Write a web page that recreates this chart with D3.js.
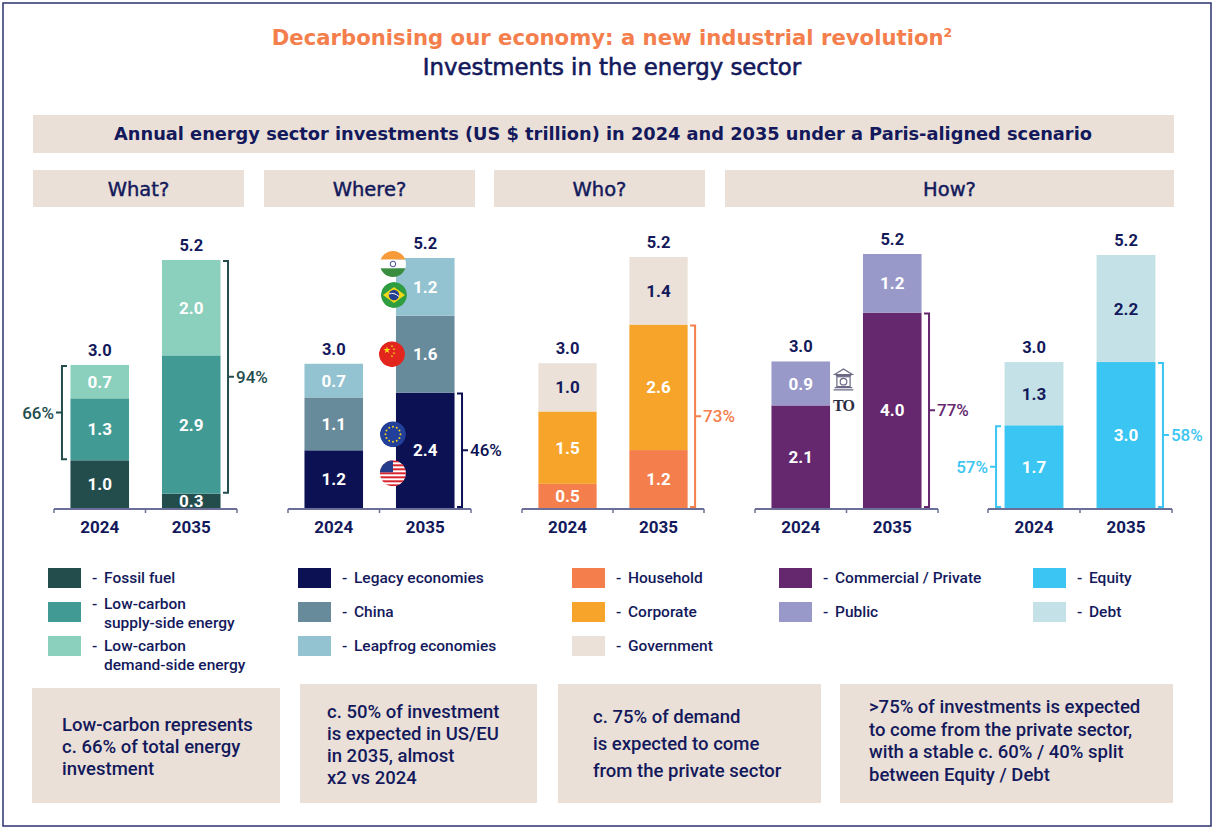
<!DOCTYPE html>
<html><head><meta charset="utf-8">
<script src="https://cdn.jsdelivr.net/npm/d3@7"></script>
<style>
html,body{margin:0;padding:0;background:#fff;}
svg{display:block;}
</style></head><body>
<svg id="c" width="1215" height="830" font-family="Roboto,'Liberation Sans',Arial,sans-serif"></svg>
<script>
// ---------------- DATA ----------------
const years = ["2024", "2035"];

const titleMain = "Decarbonising our economy: a new industrial revolution";
const titleSup = "2";
const subtitle = "Investments in the energy sector";
const banner = "Annual energy sector investments (US $ trillion) in 2024 and 2035 under a Paris-aligned scenario";
const sections = ["What?", "Where?", "Who?", "How?"];

const whatSeries = [["Fossil fuel"], ["Low-carbon", "supply-side energy"], ["Low-carbon", "demand-side energy"]];
const whatValues = [[1.0, 0.3], [1.3, 2.9], [0.7, 2.0]];
const whatShares = [{year: "2024", from: 1, to: 2, label: "66%", side: "left"},
                    {year: "2035", from: 1, to: 2, label: "94%", side: "right"}];

const whereSeries = [["Legacy economies"], ["China"], ["Leapfrog economies"]];
const whereValues = [[1.2, 2.4], [1.1, 1.6], [0.7, 1.2]];
const whereShares = [{year: "2035", from: 0, to: 0, label: "46%", side: "right"}];

const whoSeries = [["Household"], ["Corporate"], ["Government"]];
const whoValues = [[0.5, 1.2], [1.5, 2.6], [1.0, 1.4]];
const whoShares = [{year: "2035", from: 0, to: 1, label: "73%", side: "right"}];

const howSectorSeries = [["Commercial / Private"], ["Public"]];
const howSectorValues = [[2.1, 4.0], [0.9, 1.2]];
const howSectorShares = [{year: "2035", from: 0, to: 0, label: "77%", side: "right"}];

const howFundingSeries = [["Equity"], ["Debt"]];
const howFundingValues = [[1.7, 3.0], [1.3, 2.2]];
const howFundingShares = [{year: "2024", from: 0, to: 0, label: "57%", side: "left"},
                          {year: "2035", from: 0, to: 0, label: "58%", side: "right"}];

const notes = [
  ["Low-carbon represents", "c. 66% of total energy", "investment"],
  ["c. 50% of investment", "is expected in US/EU", "in 2035, almost", "x2 vs 2024"],
  ["c. 75% of demand", "is expected to come", "from the private sector"],
  [">75% of investments is expected", "to come from the private sector,", "with a stable c. 60% / 40% split", "between Equity / Debt"]
];

// ---------------- STYLE ----------------
const navy = "#13195b";
const beige = "#eae0d8";
const white = "#ffffff";
const wideFont = "'DejaVu Sans',Verdana,sans-serif";
const baseFont = "Roboto,'Liberation Sans',Arial,sans-serif";

const panels = [
  {series: whatSeries, values: whatValues, shares: whatShares,
   colors: ["#234c4c", "#429a94", "#8bd0bd"], labelColors: [white, white, white],
   bracketColor: "#234c4c", x0: 54, x1: 237, top: 260, legendX: 48},
  {series: whereSeries, values: whereValues, shares: whereShares,
   colors: ["#0b1153", "#688b9c", "#93c3d0"], labelColors: [white, white, white],
   bracketColor: "#0b1153", x0: 288, x1: 471, top: 258, legendX: 298},
  {series: whoSeries, values: whoValues, shares: whoShares,
   colors: ["#f47e4c", "#f7a42b", "#ebe1d9"], labelColors: [white, white, navy],
   bracketColor: "#f47e4c", x0: 522, x1: 704, top: 257, legendX: 572},
  {series: howSectorSeries, values: howSectorValues, shares: howSectorShares,
   colors: ["#65276e", "#9899c9"], labelColors: [white, white],
   bracketColor: "#65276e", x0: 755, x1: 938, top: 254, legendX: 779},
  {series: howFundingSeries, values: howFundingValues, shares: howFundingShares,
   colors: ["#3ac5f2", "#c3e1e6"], labelColors: [white, navy],
   bracketColor: "#3ac5f2", x0: 988, x1: 1172, top: 255, legendX: 1033}
];

const baseY = 508;
const svg = d3.select("#c");

// frame
svg.append("rect").attr("x", 3).attr("y", 3).attr("width", 1208).attr("height", 823)
  .attr("fill", "none").attr("stroke", "#2b3270").attr("stroke-width", 1.5);

// titles
const t1 = svg.append("text").attr("x", 612).attr("y", 45).attr("text-anchor", "middle")
  .attr("font-family", wideFont).attr("font-size", 21.2).attr("font-weight", 700).attr("fill", "#f47e4c");
t1.append("tspan").text(titleMain);
t1.append("tspan").attr("font-size", 12.5).attr("dy", -8).text(titleSup);
svg.append("text").attr("x", 612).attr("y", 75).attr("text-anchor", "middle")
  .attr("font-family", wideFont).attr("font-size", 22.8).attr("font-weight", 400)
  .attr("fill", navy).attr("stroke", navy).attr("stroke-width", 0.6).text(subtitle);

// banner
svg.append("rect").attr("x", 33).attr("y", 115).attr("width", 1141).attr("height", 38).attr("fill", beige);
svg.append("text").attr("x", 603).attr("y", 140).attr("text-anchor", "middle")
  .attr("font-family", wideFont).attr("font-size", 17.8).attr("font-weight", 700).attr("fill", navy).text(banner);

// section headers
const sectionBoxes = [[33, 211], [264, 211], [494, 211], [725, 449]];
sections.forEach((s, i) => {
  const [bx, bw] = sectionBoxes[i];
  svg.append("rect").attr("x", bx).attr("y", 170).attr("width", bw).attr("height", 37).attr("fill", beige);
  svg.append("text").attr("x", bx + bw / 2).attr("y", 196).attr("text-anchor", "middle")
    .attr("font-family", wideFont).attr("font-size", 19.5).attr("font-weight", 400)
    .attr("fill", navy).attr("stroke", navy).attr("stroke-width", 0.45).text(s);
});

// ---------------- CHARTS ----------------
const fmt = d3.format(".1f");

panels.forEach((p, pi) => {
  const g = svg.append("g");
  const x = d3.scaleBand().domain(years).range([p.x0, p.x1]).paddingInner(0.36).paddingOuter(0.18);
  const rows = years.map((yr, j) => {
    const r = {year: yr};
    p.values.forEach((v, k) => r["s" + k] = v[j]);
    return r;
  });
  const keys = p.values.map((v, k) => "s" + k);
  const stack = d3.stack().keys(keys)(rows);
  const totals = rows.map(r => d3.sum(keys, k => r[k]));
  const y = d3.scaleLinear().domain([0, d3.max(totals)]).range([baseY, p.top]);
  p.x = x; p.y = y; p.stack = stack;

  stack.forEach((layer, k) => {
    g.selectAll(null).data(layer).enter().append("rect")
      .attr("x", d => x(d.data.year)).attr("width", x.bandwidth())
      .attr("y", d => y(d[1])).attr("height", d => y(d[0]) - y(d[1]))
      .attr("fill", p.colors[k]);
    g.selectAll(null).data(layer).enter().append("text")
      .attr("x", d => x(d.data.year) + x.bandwidth() / 2)
      .attr("y", d => (y(d[0]) + y(d[1])) / 2).attr("dy", "0.36em")
      .attr("text-anchor", "middle").attr("font-size", 17).attr("font-weight", 700)
      .attr("fill", p.labelColors[k]).text(d => fmt(d[1] - d[0]));
  });

  // totals
  g.selectAll(null).data(rows).enter().append("text")
    .attr("x", d => x(d.year) + x.bandwidth() / 2)
    .attr("y", (d, j) => y(totals[j]) - 9)
    .attr("text-anchor", "middle").attr("font-size", 16.5).attr("font-weight", 700)
    .attr("fill", navy).text((d, j) => fmt(totals[j]));

  // axis
  const axis = g.append("g").attr("transform", `translate(0,${baseY})`)
    .call(d3.axisBottom(x).tickSize(0).tickPadding(13));
  axis.attr("font-family", baseFont);
  axis.select(".domain").remove();
  axis.selectAll("text").attr("font-size", 17).attr("font-weight", 700).attr("fill", navy);
  const axColor = "#6b6f98";
  const [r0, r1] = x.range();
  const mid = x(years[1]) - x.step() * x.paddingInner() / 2;
  g.append("line").attr("x1", r0).attr("x2", r1).attr("y1", baseY + 1).attr("y2", baseY + 1)
    .attr("stroke", axColor).attr("stroke-width", 2);
  [r0, mid, r1].forEach(tx => g.append("line").attr("x1", tx).attr("x2", tx)
    .attr("y1", baseY + 1).attr("y2", baseY + 5).attr("stroke", axColor).attr("stroke-width", 1.5));

  // brackets
  p.shares.forEach(s => {
    const j = years.indexOf(s.year);
    const yTop = y(stack[s.to][j][1]) + 1;
    const yBot = y(stack[s.from][j][0]) - 1;
    const ym = (yTop + yBot) / 2;
    const right = s.side === "right";
    const bx = right ? x(s.year) + x.bandwidth() + 7.5 : x(s.year) - 8.5;
    const dir = right ? 1 : -1;
    const serif = 5;
    g.append("path")
      .attr("d", `M${bx - dir * serif},${yTop}H${bx}V${yBot}H${bx - dir * serif}M${bx},${ym}H${bx + dir * 6}`)
      .attr("fill", "none").attr("stroke", p.bracketColor).attr("stroke-width", 2);
    g.append("text").attr("x", bx + dir * 8).attr("y", ym).attr("dy", "0.36em")
      .attr("text-anchor", right ? "start" : "end")
      .attr("font-size", 17).attr("font-weight", 500).attr("fill", p.bracketColor).text(s.label);
  });

  // legend
  const rowsTop = [568, 602, 636];
  p.series.forEach((lines, k) => {
    const ty = rowsTop[k];
    svg.append("rect").attr("x", p.legendX).attr("y", ty).attr("width", 33).attr("height", 20).attr("fill", p.colors[k]);
    const first = (lines.length > 1 && k < p.series.length - 1) ? ty + 7 : ty + 15;
    svg.append("text").attr("x", p.legendX + 44).attr("y", first)
      .attr("font-size", 15.5).attr("font-weight", 500).attr("fill", navy).text("-");
    lines.forEach((ln, li) => {
      svg.append("text").attr("x", p.legendX + 56).attr("y", first + li * 19)
        .attr("font-size", 15.5).attr("font-weight", 500).attr("fill", navy).text(ln);
    });
  });
});

// ---------------- FLAGS (Where? panel, 2035 bar) ----------------
const wp = panels[1];
const fx = wp.x(years[1]) - 3;
const st = wp.stack;
const defs = svg.append("defs");
function flagBase(id, cx, cy, r) {
  defs.append("clipPath").attr("id", id).append("circle").attr("cx", cx).attr("cy", cy).attr("r", r);
  return svg.append("g").attr("clip-path", `url(#${id})`);
}
const R = 13;
// India
(function () {
  const cy = wp.y(st[2][1][1]) + 6, cx = fx;
  const g = flagBase("fIN", cx, cy, R);
  g.append("rect").attr("x", cx - R).attr("y", cy - R).attr("width", 2 * R).attr("height", 2 * R / 3).attr("fill", "#f79a3a");
  g.append("rect").attr("x", cx - R).attr("y", cy - R / 3).attr("width", 2 * R).attr("height", 2 * R / 3).attr("fill", "#ffffff");
  g.append("rect").attr("x", cx - R).attr("y", cy + R / 3).attr("width", 2 * R).attr("height", 2 * R / 3).attr("fill", "#3a8c3f");
  g.append("circle").attr("cx", cx).attr("cy", cy).attr("r", 2.8).attr("fill", "none").attr("stroke", "#2a3a8a").attr("stroke-width", 0.9);
})();
// Brazil
(function () {
  const cy = wp.y(st[2][1][1]) + 37, cx = fx + 1;
  const g = flagBase("fBR", cx, cy, R);
  g.append("circle").attr("cx", cx).attr("cy", cy).attr("r", R).attr("fill", "#2f9e40");
  g.append("polygon").attr("points", `${cx - 11},${cy} ${cx},${cy - 8} ${cx + 11},${cy} ${cx},${cy + 8}`).attr("fill", "#f4d715");
  g.append("circle").attr("cx", cx).attr("cy", cy).attr("r", 5.2).attr("fill", "#233f8e");
  g.append("path").attr("d", `M${cx - 5},${cy - 1} Q${cx},${cy - 3} ${cx + 5},${cy + 1.5}`).attr("stroke", "#fff").attr("stroke-width", 1).attr("fill", "none");
})();
// China
(function () {
  const cy = (wp.y(st[1][1][0]) + wp.y(st[1][1][1])) / 2, cx = fx - 1;
  const g = flagBase("fCN", cx, cy, R);
  g.append("circle").attr("cx", cx).attr("cy", cy).attr("r", R).attr("fill", "#e2261d");
  g.append("path").attr("d", d3.symbol(d3.symbolStar, 16)()).attr("transform", `translate(${cx - 5},${cy - 4})`).attr("fill", "#f8d81a");
  [[0, -8], [2, -5], [2, -1], [0, 2]].forEach(([dx, dy]) =>
    g.append("path").attr("d", d3.symbol(d3.symbolStar, 2.5)()).attr("transform", `translate(${cx + dx},${cy + dy})`).attr("fill", "#f8d81a"));
})();
// EU
(function () {
  const legMid = (wp.y(st[0][1][0]) + wp.y(st[0][1][1])) / 2;
  const cy = legMid - 16, cx = fx;
  const g = flagBase("fEU", cx, cy, R);
  g.append("circle").attr("cx", cx).attr("cy", cy).attr("r", R).attr("fill", "#22409a");
  d3.range(12).forEach(i => {
    const a = i / 12 * 2 * Math.PI;
    g.append("circle").attr("cx", cx + 7.5 * Math.cos(a)).attr("cy", cy + 7.5 * Math.sin(a)).attr("r", 0.95).attr("fill", "#f6d512");
  });
})();
// US
(function () {
  const legMid = (wp.y(st[0][1][0]) + wp.y(st[0][1][1])) / 2;
  const cy = legMid + 23, cx = fx;
  const g = flagBase("fUS", cx, cy, R);
  g.append("circle").attr("cx", cx).attr("cy", cy).attr("r", R).attr("fill", "#ffffff");
  d3.range(7).forEach(i => g.append("rect").attr("x", cx - R).attr("y", cy - R + i * 4).attr("width", 2 * R).attr("height", 2).attr("fill", "#d8252f"));
  g.append("rect").attr("x", cx - R).attr("y", cy - R).attr("width", R).attr("height", 12).attr("fill", "#253d8a");
})();

// ---------------- ICON (How? panel) ----------------
(function () {
  const hp = panels[3];
  const cx = hp.x(years[1]) - hp.x.step() * hp.x.paddingInner() / 2 - 3;
  const cy = 380;
  const ic = svg.append("g").attr("transform", `translate(${cx},${cy}) scale(1.1)`).attr("fill", "none").attr("stroke", "#6a6a86").attr("stroke-width", 1.1);
  ic.append("path").attr("d", "M-8,-5 L0,-10 L8,-5 Z");
  ic.append("path").attr("d", "M-7,-4 H7 M-8,7 H8 M-9,9 H9");
  ic.append("rect").attr("x", -6).attr("y", -3).attr("width", 12).attr("height", 9);
  ic.append("circle").attr("cx", 0).attr("cy", 1.5).attr("r", 3);
  svg.append("text").attr("x", cx).attr("y", 411).attr("text-anchor", "middle")
    .attr("font-family", "'Liberation Serif','DejaVu Serif',serif").attr("font-size", 16).attr("font-weight", 700)
    .attr("fill", "#2b2b40").attr("letter-spacing", -1).text("TO");
})();

// ---------------- NOTES ----------------
const noteBoxes = [
  {x: 32, y: 688, w: 248, h: 115, tx: 62, ty: 731, dy: 22},
  {x: 300, y: 684, w: 237, h: 119, tx: 327, ty: 718, dy: 22},
  {x: 558, y: 684, w: 263, h: 119, tx: 593, ty: 723, dy: 27},
  {x: 840, y: 684, w: 333, h: 119, tx: 869, ty: 713, dy: 22.5}
];
notes.forEach((lines, i) => {
  const b = noteBoxes[i];
  svg.append("rect").attr("x", b.x).attr("y", b.y).attr("width", b.w).attr("height", b.h).attr("fill", beige);
  lines.forEach((ln, li) => svg.append("text").attr("x", b.tx).attr("y", b.ty + li * b.dy)
    .attr("font-size", 18.5).attr("font-weight", 500).attr("fill", navy).text(ln));
});
</script></body></html>
